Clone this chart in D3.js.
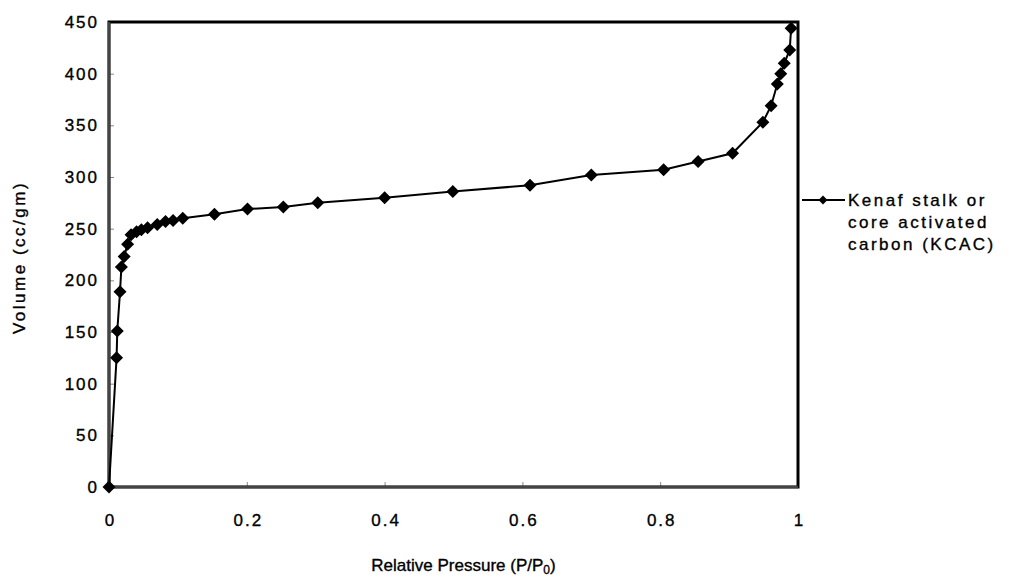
<!DOCTYPE html>
<html lang='en'>

<head>
   <meta charset='UTF-8'>
   <style>
      body {
         margin: 0;
         background: #fff;
      }

      svg {
         display: block;
         font-family: 'Liberation Sans', Arial, sans-serif;
      }

      svg text {
         stroke: #000;
         stroke-width: 0.35px;
      }

      .tick text {
         font-size: 17px;
         fill: #000;
         letter-spacing: 2px;
      }

      .tick line {
         stroke: #888;
      }

      .domain {
         display: none;
      }
   </style>
   <script src="https://cdnjs.cloudflare.com/ajax/libs/d3/7.8.5/d3.min.js"></script>
   <title>KCAC isotherm</title>
</head>

<body>
   <svg id='chart'></svg>

   <script>
      'use strict'

      // relative pressure P/P0 and adsorbed volume (cc/gm)
      const pressure = [0, 0.011, 0.012, 0.016, 0.018, 0.022, 0.027, 0.032, 0.04, 0.047, 0.056,
         0.07, 0.082, 0.093, 0.107, 0.153, 0.201, 0.253, 0.303, 0.4, 0.499, 0.611, 0.7,
         0.805, 0.855, 0.905, 0.949, 0.961, 0.97, 0.975, 0.98, 0.988, 0.99]
      const volume = [0, 125, 151, 189, 213, 223, 235, 244, 247, 249, 251,
         254, 257, 258, 260, 264, 269, 271, 275, 280, 286, 292, 302,
         307, 315, 323, 353, 369, 390, 400, 410, 423, 444]

      const xTicks = [0, 0.2, 0.4, 0.6, 0.8, 1]
      const yTicks = [0, 50, 100, 150, 200, 250, 300, 350, 400, 450]
      const legendLines = ['Kenaf stalk or', 'core activated', 'carbon (KCAC)']

      const width = 1013,
         height = 578
      const plotL = 109, plotR = 798, plotT = 22, plotB = 487

      const svg = d3.select('svg')
         .attr('width', width)
         .attr('height', height)

      const x = d3.scaleLinear([0, 1], [plotL, plotR])
      const y = d3.scaleLinear([0, 450], [plotB, plotT])

      // axes with inside ticks
      svg.append('g')
         .attr('transform', `translate(0,${plotB})`)
         .call(d3.axisTop(x).tickValues(xTicks).tickSize(5).tickFormat(d3.format('')))
         .call(g => g.selectAll('.tick text').attr('y', 39).attr('dy', 0).attr('dx', 1))

      svg.append('g')
         .attr('transform', `translate(${plotL},0)`)
         .call(d3.axisRight(y).tickValues(yTicks).tickSize(5))
         .call(g => g.selectAll('.tick text')
            .attr('x', -10).attr('text-anchor', 'end'))

      // plot frame
      svg.append('rect')
         .attr('x', plotL).attr('y', plotT)
         .attr('width', plotR - plotL).attr('height', plotB - plotT)
         .attr('fill', 'none')
         .attr('stroke', '#000')
         .attr('stroke-width', 3)

      svg.append('path')
         .attr('d', `M${plotL},${plotT}V${plotB}H${plotR}`)
         .attr('fill', 'none')
         .attr('stroke', '#444')
         .attr('stroke-width', 2.5)

      const data = pressure.map((p, i) => [p, volume[i]])

      const diamond = 'M0,-6.5L6.5,0L0,6.5L-6.5,0Z'

      svg.append('path')
         .datum(data)
         .attr('fill', 'none')
         .attr('stroke', '#000')
         .attr('stroke-width', 2)
         .attr('d', d3.line().x(d => x(d[0])).y(d => y(d[1])))

      svg.selectAll('.pt')
         .data(data)
         .enter()
         .append('path')
         .attr('class', 'pt')
         .attr('d', diamond)
         .attr('transform', d => `translate(${x(d[0])},${y(d[1])})`)
         .attr('fill', '#000')

      // axis titles
      const xTitle = svg.append('text')
         .attr('x', (plotL + plotR) / 2 + 10)
         .attr('y', 571)
         .attr('text-anchor', 'middle')
         .attr('font-size', 17)
         .attr('fill', '#000')
      xTitle.append('tspan').text('Relative Pressure (P/P')
      xTitle.append('tspan').attr('font-size', 12).attr('dy', 3).text('0')
      xTitle.append('tspan').attr('dy', -3).text(')')

      svg.append('text')
         .attr('transform', `translate(25,${(plotT + plotB) / 2 + 3}) rotate(-90)`)
         .attr('text-anchor', 'middle')
         .attr('font-size', 17)
         .attr('letter-spacing', 2.5)
         .attr('fill', '#000')
         .text('Volume (cc/gm)')

      // legend
      const legend = svg.append('g').attr('transform', 'translate(800,200)')
      legend.append('line')
         .attr('x1', 2).attr('x2', 45)
         .attr('stroke', '#000').attr('stroke-width', 2)
      legend.append('path')
         .attr('d', 'M0,-4.5L4.5,0L0,4.5L-4.5,0Z')
         .attr('transform', 'translate(23,0)')
         .attr('fill', '#000')
      legend.selectAll('.lg')
         .data(legendLines)
         .enter()
         .append('text')
         .attr('class', 'lg')
         .attr('x', 48)
         .attr('y', (d, i) => i * 22 + 6)
         .attr('font-size', 17)
         .attr('letter-spacing', 2.5)
         .attr('fill', '#000')
         .text(d => d)
   </script>
</body>

</html>
